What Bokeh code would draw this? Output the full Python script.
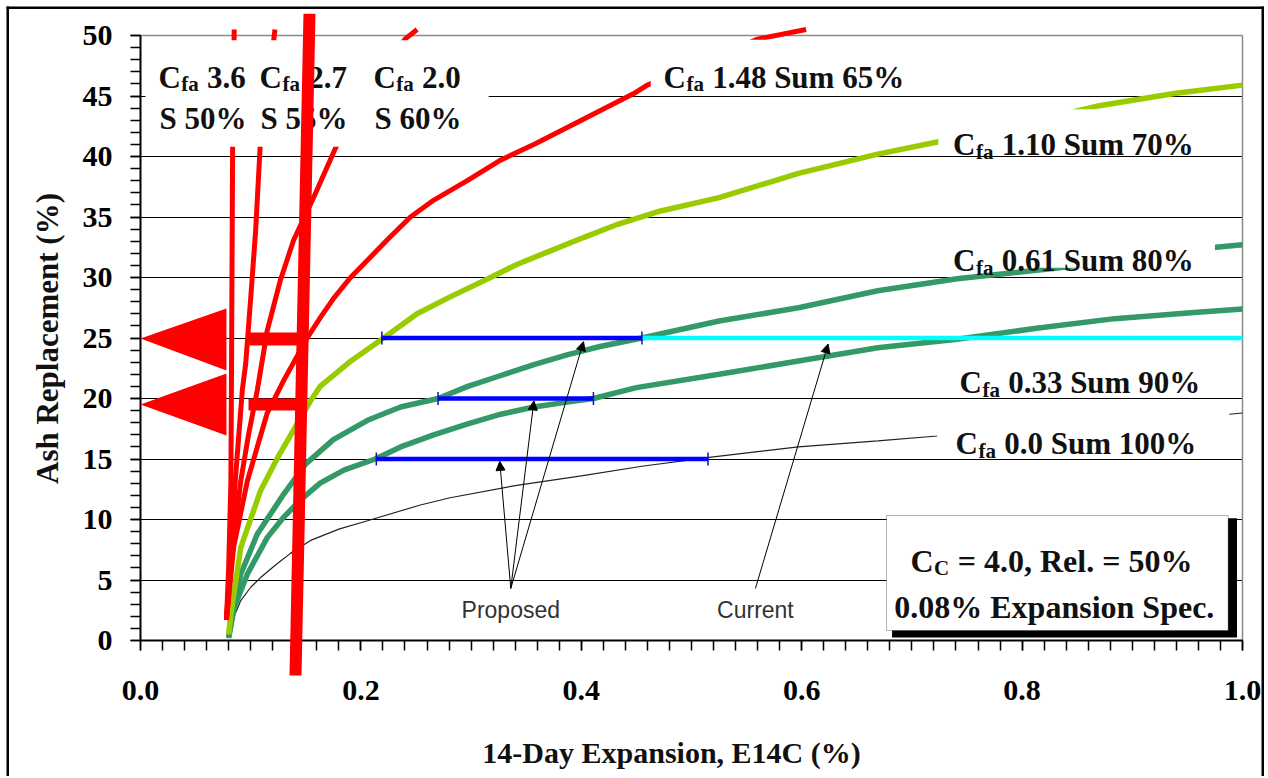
from math import pi
from bokeh.plotting import figure
from bokeh.models import (FixedTicker, PrintfTickFormatter, Label, BoxAnnotation,
                          PolyAnnotation, Arrow, NormalHead, Grid)
from bokeh.embed import file_html
from bokeh.resources import INLINE

# ---------------- data ----------------
x_cfa_000 = [0.079, 0.085, 0.091, 0.100, 0.109, 0.122, 0.136, 0.155, 0.180, 0.206, 0.254, 0.281,
             0.340, 0.400, 0.455, 0.518, 0.597, 0.669, 0.723, 0.800, 0.900, 0.988, 1.000]
y_cfa_000 = [0.2, 2.0, 3.3, 4.4, 5.2, 6.2, 7.2, 8.3, 9.2, 9.9, 11.2, 11.8,
             12.8, 13.6, 14.4, 15.15, 16.0, 16.5, 16.9, 17.5, 18.2, 18.7, 18.8]

x_cfa_033 = [0.080, 0.085, 0.097, 0.115, 0.130, 0.145, 0.163, 0.185, 0.213, 0.236, 0.266, 0.297,
             0.327, 0.357, 0.387, 0.411, 0.450, 0.525, 0.597, 0.669, 0.741, 0.813, 0.884, 0.956, 1.000]
y_cfa_033 = [0.2, 2.7, 5.5, 8.5, 10.2, 11.6, 13.0, 14.1, 15.0, 16.0, 17.0, 17.9,
             18.7, 19.3, 19.7, 20.0, 20.9, 22.0, 23.1, 24.2, 24.9, 25.8, 26.6, 27.1, 27.4]

x_cfa_061 = [0.080, 0.085, 0.091, 0.106, 0.130, 0.150, 0.175, 0.206, 0.236, 0.270, 0.297, 0.327,
             0.357, 0.387, 0.417, 0.455, 0.525, 0.597, 0.669, 0.741, 0.834, 0.976, 1.000]
y_cfa_061 = [0.3, 3.0, 5.5, 8.8, 12.1, 14.6, 16.6, 18.2, 19.3, 20.0, 21.0, 21.9,
             22.8, 23.6, 24.3, 25.0, 26.4, 27.5, 28.9, 29.9, 30.8, 32.5, 32.7]

x_cfa_110 = [0.080, 0.082, 0.091, 0.109, 0.125, 0.139, 0.155, 0.163, 0.191, 0.219, 0.251, 0.281,
             0.312, 0.342, 0.372, 0.402, 0.433, 0.472, 0.525, 0.597, 0.669, 0.723, 0.800, 0.870,
             0.938, 1.000]
y_cfa_110 = [0.5, 2.2, 7.7, 12.4, 15.2, 17.4, 19.9, 21.0, 23.1, 24.9, 27.0, 28.4,
             29.75, 31.1, 32.2, 33.3, 34.4, 35.5, 36.6, 38.6, 40.2, 41.2, 42.7, 44.2,
             45.2, 45.9]

x_cfa_148 = [0.078, 0.0845, 0.097, 0.115, 0.130, 0.1513, 0.1633, 0.1754, 0.1906, 0.2057, 0.2238,
             0.245, 0.2662, 0.2965, 0.3267, 0.3569, 0.3872, 0.4174, 0.4476, 0.4598, 0.510, 0.560, 0.604]
y_cfa_148 = [1.7, 7.7, 13.2, 18.8, 21.5, 25.0, 26.7, 28.3, 30.0, 31.4, 33.1,
             35.0, 36.4, 38.0, 39.7, 41.0, 42.4, 43.8, 45.2, 45.9, 47.7, 49.7, 50.5]

x_cfa_200 = [0.078, 0.082, 0.086, 0.091, 0.098, 0.106, 0.115, 0.127, 0.139, 0.157, 0.177, 0.205, 0.240, 0.251]
y_cfa_200 = [1.7, 6.0, 9.5, 13.2, 17.0, 20.7, 25.6, 29.8, 33.1, 36.6, 40.7, 45.3, 49.7, 50.5]

x_cfa_270 = [0.078, 0.081, 0.086, 0.0924, 0.0955, 0.100, 0.1045, 0.1085, 0.115, 0.121, 0.122]
y_cfa_270 = [1.7, 6.0, 13.2, 20.7, 22.9, 28.3, 33.9, 40.7, 45.5, 49.7, 50.5]

x_cfa_360 = [0.078, 0.080, 0.082, 0.0825, 0.083, 0.0836, 0.0845, 0.085]
y_cfa_360 = [1.7, 6.0, 13.0, 20.7, 30.0, 40.7, 45.0, 50.5]

proposed_level = [25, 20, 15]
proposed_start = [0.219, 0.270, 0.214]
proposed_end = [0.455, 0.411, 0.515]
current_level = [25]
current_start = [0.455]
current_end = [1.000]

x_major = [0.0, 0.2, 0.4, 0.6, 0.8, 1.0]
x_minor = [round(i * 0.02, 2) for i in range(51)]
y_major = [0, 5, 10, 15, 20, 25, 30, 35, 40, 45, 50]
y_minor = list(range(51))

# arrows: (x_start, y_start, x_end, y_end)
proposed_arrows = [(0.336, 4.3, 0.326, 14.8), (0.336, 4.3, 0.357, 19.8), (0.336, 4.3, 0.402, 24.7)]
current_arrows = [(0.558, 4.3, 0.624, 24.5)]

# red hand-drawn overlay marks
overlay_bar_x = [0.1479, 0.1588, 0.1461, 0.1352]
overlay_bar_y = [51.8, 51.8, -2.9, -2.9]
tri1_x = [0.0, 0.078, 0.078]
tri1_y = [24.96, 27.44, 22.31]
tri2_x = [0.0, 0.078, 0.078]
tri2_y = [19.5, 22.07, 16.94]
hbar1 = (0.0989, 0.1515, 24.38, 25.45)
hbar2 = (0.098, 0.143, 19.0, 20.0)

# ---------------- figure ----------------
# the frame fills the whole canvas; the axes cross at the data origin
W, H = 1266, 776
X0_PX, X_SCALE = 140.0, 1102.0      # page px of x=0, px per unit x
Y0_PX, Y_SCALE = 640.0, 12.1        # page px of y=0, px per unit y

def px(cx, cy):
    return ((cx - X0_PX) / X_SCALE, (Y0_PX - cy) / Y_SCALE)

xr = ((0 - X0_PX) / X_SCALE, (W - X0_PX) / X_SCALE)
yr = ((Y0_PX - H) / Y_SCALE, (Y0_PX - 0) / Y_SCALE)

p = figure(width=W, height=H, x_range=xr, y_range=yr, title=None,
           output_backend="svg", toolbar_location=None, min_border=0)
p.background_fill_color = "white"
p.border_fill_color = "white"
p.outline_line_color = None

SERIF = "Liberation Serif"
SANS = "Liberation Sans"

p.xaxis.ticker = FixedTicker(ticks=x_major, minor_ticks=x_minor)
p.xaxis.formatter = PrintfTickFormatter(format="%.1f")
p.yaxis.ticker = FixedTicker(ticks=y_major, minor_ticks=y_minor)
p.xaxis.fixed_location = 0
p.yaxis.fixed_location = 0
p.xaxis.bounds = (0, 1)
p.yaxis.bounds = (0, 50)
p.xgrid.visible = False

GREY = "#8a8a8a"
try:
    p.ygrid.cross_bounds = (0, 1)
    p.ygrid.ticker = FixedTicker(ticks=y_major[:-1])
    p.ygrid.grid_line_color = "black"
    p.ygrid.grid_line_width = 1.2
    p.add_layout(Grid(dimension=1, ticker=FixedTicker(ticks=[50]), cross_bounds=(0, 1),
                      grid_line_color=GREY, grid_line_width=1.5))
    p.add_layout(Grid(dimension=0, ticker=FixedTicker(ticks=[1.0]), cross_bounds=(0, 50),
                      grid_line_color=GREY, grid_line_width=1.5))
except AttributeError:
    p.ygrid.visible = False
    gy = y_major[:-1]
    p.segment(x0=[0] * len(gy), y0=gy, x1=[1] * len(gy), y1=gy,
              line_color="black", line_width=1.2, level="underlay")
    p.segment(x0=[0, 1], y0=[50, 0], x1=[1, 1], y1=[50, 50],
              line_color=GREY, line_width=1.5, level="underlay")

for ax in (p.xaxis, p.yaxis):
    ax.axis_line_color = "black"
    ax.axis_line_width = 2
    ax.major_tick_in = 0
    ax.major_tick_out = 10
    ax.minor_tick_in = 0
    ax.minor_tick_out = 10
    ax.major_tick_line_color = "black"
    ax.minor_tick_line_color = "black"
    ax.major_tick_line_width = 1.5
    ax.minor_tick_line_width = 1.5
    ax.major_label_text_font = SERIF
    ax.major_label_text_font_style = "bold"
    ax.major_label_text_font_size = "30px"
    ax.major_label_text_color = "black"
p.yaxis.major_label_standoff = 18
p.xaxis.major_label_standoff = 30

# curves
RED, LIME, TEAL = "#FF0000", "#99CC00", "#339966"
p.line(x_cfa_000, y_cfa_000, line_color="#222222", line_width=1.2)
p.line(x_cfa_033, y_cfa_033, line_color=TEAL, line_width=5.5)
p.line(x_cfa_061, y_cfa_061, line_color=TEAL, line_width=5.5)
p.line(x_cfa_110, y_cfa_110, line_color=LIME, line_width=5.5)
p.line(x_cfa_148, y_cfa_148, line_color=RED, line_width=5)
p.line(x_cfa_200, y_cfa_200, line_color=RED, line_width=5)
p.line(x_cfa_270, y_cfa_270, line_color=RED, line_width=5)
p.line(x_cfa_360, y_cfa_360, line_color=RED, line_width=5)

# proposed / current spec lines
p.segment(x0=current_start, y0=current_level, x1=current_end, y1=current_level,
          line_color="#00FFFF", line_width=4.5)
p.segment(x0=proposed_start, y0=proposed_level, x1=proposed_end, y1=proposed_level,
          line_color="#0000FF", line_width=4.5)
p.scatter(x=proposed_start + proposed_end, y=proposed_level + proposed_level,
          marker="dash", angle=pi / 2, size=13, line_color="#1010C0", line_width=1.5)

# white label boxes that hide the curves behind the texts
def white_box(l, r, b, t):
    p.add_layout(BoxAnnotation(left=l, right=r, bottom=b, top=t, fill_color="white",
                               fill_alpha=1, line_alpha=0))

white_box(0.0045, 0.316, 40.8, 49.6)
white_box(0.463, 0.72, 45.2, 49.65)
white_box(0.724, 0.97, 40.2, 43.9)
white_box(0.74, 0.975, 30.8, 34.8)
white_box(0.723, 0.988, 15.3, 19.6)

def txt(x, y, s, size=30, xo=0, yo=0, font=SERIF, style="bold", align="left",
        baseline="alphabetic", color="#111111", angle=0):
    p.add_layout(Label(x=x, y=y, text=s, x_offset=xo, y_offset=yo, text_font=font,
                       text_font_style=style, text_font_size=f"{size}px", text_color=color,
                       text_align=align, text_baseline=baseline, angle=angle))

def sub_label(x, y, main, sub, rest, size=31, sub_size=21):
    w_main = 0.722 * size
    w_sub = (0.833 if sub == "fa" else 0.722) * sub_size
    txt(x, y, main, size)
    txt(x, y, sub, sub_size, xo=w_main + 0.5, yo=-7)
    if rest:
        txt(x, y, rest, size, xo=w_main + w_sub + 0.25 * size + 1)

left_cfa = ["3.6", "2.7", "2.0"]
left_s = ["S 50%", "S 55%", "S 60%"]
left_x = [0.0163, 0.108, 0.2114]
for cx, c, s in zip(left_x, left_cfa, left_s):
    sub_label(cx, 46.53, "C", "fa", c)
    txt(cx + 0.001, 43.14, s, 31)

right_labels = ["1.48 Sum 65%", "1.10 Sum 70%", "0.61 Sum 80%", "0.33 Sum 90%", "0.0 Sum 100%"]
right_pos = [(0.4746, 46.53), (0.7374, 40.99), (0.7374, 31.4), (0.7432, 21.32), (0.7396, 16.28)]
for (cx, cy), s in zip(right_pos, right_labels):
    sub_label(cx, cy, "C", "fa", s)

# parameter box with shadow
p.add_layout(BoxAnnotation(left=0.682, right=0.995, bottom=0.25, top=10.1,
                           fill_color="black", fill_alpha=1, line_alpha=0))
p.add_layout(BoxAnnotation(left=0.677, right=0.987, bottom=0.83, top=10.33,
                           fill_color="white", fill_alpha=1, line_color="black", line_width=1))
sub_label(0.6987, 6.61, "C", "C", "= 4.0, Rel. = 50%", size=32, sub_size=21)
txt(0.684, 2.73, "0.08% Expansion Spec.", 32)

# arrows and their captions
for xs, ys, xe, ye in proposed_arrows + current_arrows:
    p.add_layout(Arrow(end=NormalHead(size=9, fill_color="black", line_color="black"),
                       x_start=xs, y_start=ys, x_end=xe, y_end=ye,
                       line_color="black", line_width=1))
txt(0.336, 2.56, "Proposed", 23, font=SANS, style="normal", align="center",
    baseline="middle", color="#333333")
txt(0.558, 2.56, "Current", 23, font=SANS, style="normal", align="center",
    baseline="middle", color="#333333")

# axis titles
txt(0.4819, -9.26, "14-Day Expansion, E14C (%)", 30, align="center", baseline="middle")
txt(-0.0844, 24.96, "Ash Replacement (%)", 31, align="center", baseline="middle", angle=pi / 2)

# red hand-drawn overlay
for xs, ys in ((tri1_x, tri1_y), (tri2_x, tri2_y), (overlay_bar_x, overlay_bar_y)):
    p.add_layout(PolyAnnotation(xs=xs, ys=ys, fill_color=RED, fill_alpha=1, line_alpha=0))
for l, r, b, t in (hbar1, hbar2):
    p.add_layout(BoxAnnotation(left=l, right=r, bottom=b, top=t, fill_color=RED,
                               fill_alpha=1, line_alpha=0))

# outer border of the picture (left, top, right edges)
def edge(cx0, cy0, cx1, cy1):
    (l, t), (r, b) = px(cx0, cy0), px(cx1, cy1)
    p.add_layout(BoxAnnotation(left=l, right=r, top=t, bottom=b, fill_color="black",
                               fill_alpha=1, line_alpha=0))

edge(6, 6, 8.5, 800)
edge(6, 6, 1263.5, 8.5)
edge(1261, 6, 1263.5, 800)

open("out.html", "w").write(file_html(p, INLINE))
